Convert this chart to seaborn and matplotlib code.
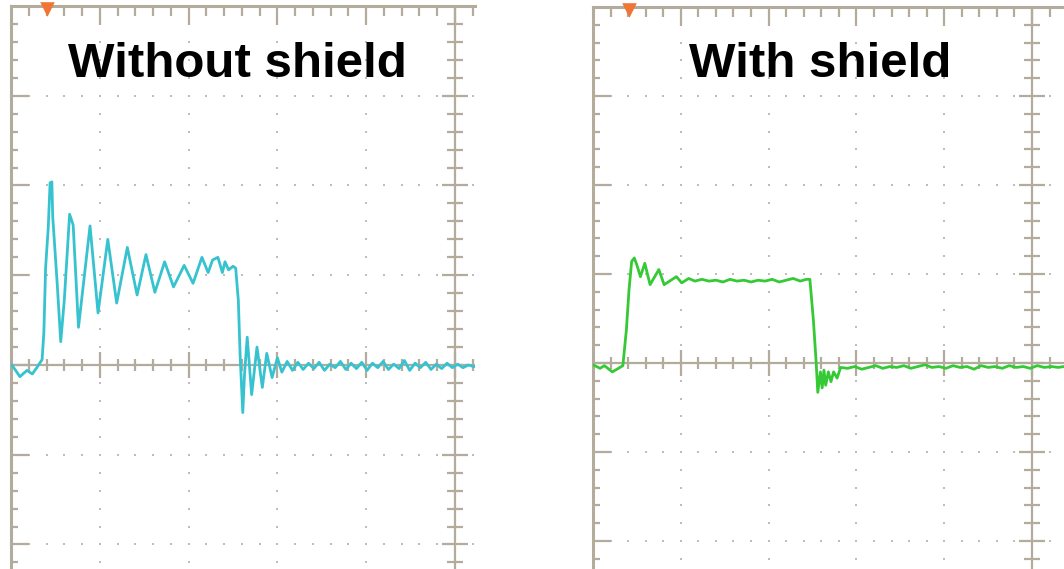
import numpy as np
import pandas as pd
import matplotlib
matplotlib.use("Agg")
import matplotlib.pyplot as plt
from matplotlib.collections import LineCollection
import seaborn as sns

sns.set_style("white")
plt.rcParams['font.family'] = ['Liberation Sans', 'DejaVu Sans']

# ---------------- data (oscilloscope divisions; 0 = screen centre) ----------------
titles = ["Without shield", "With shield"]

left_t = [-4.99, -4.90, -4.82, -4.76, -4.71, -4.65, -4.63, -4.61, -4.58, -4.56,
          -4.54, -4.53, -4.48, -4.44, -4.40, -4.34, -4.30, -4.24, -4.11, -4.02,
          -3.91, -3.81, -3.69, -3.58, -3.48, -3.38, -3.27, -3.17, -3.05, -2.95,
          -2.85, -2.78, -2.73, -2.67, -2.62, -2.59, -2.55, -2.50, -2.47, -2.44,
          -2.42, -2.39, -2.37, -2.34, -2.29, -2.23, -2.17, -2.12, -2.06, -2.00,
          -1.95, -1.89,
          -1.83, -1.77, -1.71, -1.65, -1.59, -1.53, -1.47, -1.41, -1.35, -1.29,
          -1.23, -1.17, -1.11, -1.05, -0.99, -0.93, -0.87, -0.81, -0.75, -0.69,
          -0.63, -0.57, -0.51, -0.45, -0.39, -0.33, -0.27, -0.21, -0.15, -0.09,
          -0.03, 0.03, 0.09, 0.15, 0.22]
left_v = [0.00, -0.13, -0.06, -0.10, -0.03, 0.06, 0.36, 1.09, 1.54, 2.03,
          2.04, 1.65, 0.91, 0.26, 0.72, 1.68, 1.56, 0.42, 1.55, 0.58,
          1.40, 0.69, 1.31, 0.78, 1.23, 0.81, 1.15, 0.87, 1.11, 0.91,
          1.20, 1.03, 1.17, 1.20, 1.03, 1.15, 1.06, 1.10, 1.08, 0.72,
          0.11, -0.53, -0.10, 0.31, -0.33, 0.20, -0.25, 0.13, -0.14, 0.08,
          -0.08, 0.04,
          -0.06, 0.03, -0.05, 0.02, -0.04, 0.03, -0.06, 0.01, -0.03, 0.04,
          -0.05, 0.02, -0.04, 0.03, -0.06, 0.02, -0.03, 0.04, -0.05, 0.01,
          -0.04, 0.05, -0.06, 0.02, -0.03, 0.03, -0.05, 0.01, -0.04, 0.02,
          -0.03, 0.01, -0.03, 0.00, -0.02]

right_t = [-5.00, -4.92, -4.87, -4.78, -4.71, -4.66, -4.62, -4.59, -4.56, -4.53,
           -4.50, -4.46, -4.41, -4.35, -4.25, -4.19, -4.05, -3.99, -3.91,
           -3.84, -3.76, -3.68, -3.60, -3.52, -3.44, -3.36, -3.28, -3.20, -3.12,
           -3.04, -2.96, -2.88, -2.80, -2.72, -2.64, -2.57, -2.53,
           -2.49, -2.46, -2.44, -2.41, -2.39, -2.37, -2.35, -2.32, -2.29, -2.26,
           -2.22, -2.18,
           -2.10, -2.02, -1.94, -1.86, -1.78, -1.70, -1.62, -1.54, -1.46, -1.38,
           -1.30, -1.22, -1.14, -1.06, -0.98, -0.90, -0.82, -0.74, -0.66, -0.58,
           -0.50, -0.42, -0.34, -0.26, -0.18, -0.10, -0.02, 0.06, 0.14, 0.22,
           0.30, 0.36]
right_v = [-0.02, -0.06, -0.03, -0.10, -0.06, -0.03, 0.37, 0.82, 1.14, 1.18,
           1.10, 0.97, 1.12, 0.88, 1.05, 0.88, 0.97, 0.90, 0.95,
           0.92, 0.94, 0.92, 0.93, 0.91, 0.94, 0.92, 0.93, 0.91, 0.93,
           0.92, 0.94, 0.91, 0.93, 0.95, 0.92, 0.94, 0.94,
           0.48, 0.03, -0.33, -0.10, -0.28, -0.08, -0.25, -0.10, -0.21, -0.10,
           -0.17, -0.05,
           -0.06, -0.04, -0.07, -0.05, -0.03, -0.06, -0.04, -0.05, -0.03, -0.06,
           -0.04, -0.02, -0.05, -0.04, -0.06, -0.03, -0.05, -0.04, -0.07, -0.03,
           -0.05, -0.04, -0.06, -0.03, -0.05, -0.04, -0.06, -0.03, -0.05, -0.04,
           -0.05, -0.04]

trigger_pos = [-4.59, -4.59]

# ---------------- figure ----------------
W, H = 1064, 569
fig = plt.figure(figsize=(W / 100, H / 100), dpi=100)
fig.patch.set_facecolor("white")

GRID = "#b3ab9c"
DOT = "#bdbdbd"


def panel(px_left, px_right, px_top, xr, yb, t, v, color, title, title_x, trig):
    ax = fig.add_axes([px_left / W, 0, (px_right - px_left) / W, (H - px_top) / H])
    ax.set_xlim(-5, xr)
    ax.set_ylim(yb, 4)
    ax.set_facecolor("white")
    for s in ["right", "bottom"]:
        ax.spines[s].set_visible(False)
    for s in ["left", "top"]:
        ax.spines[s].set_color(GRID)
        ax.spines[s].set_linewidth(2.2)
    ax.set_xticks([])
    ax.set_yticks([])

    # dotted grid
    dx, dy = [], []
    for gx in [-4, -3, -2, -1]:
        for yy in np.arange(-2.2, 4.0, 0.2):
            dx.append(gx); dy.append(yy)
    for gy in [-2, -1, 1, 2, 3]:
        for xx in np.arange(-4.8, xr, 0.2):
            dx.append(xx); dy.append(gy)
    ax.scatter(dx, dy, s=3.5, marker="s", color=DOT, linewidths=0, zorder=1)

    # crosshair
    ax.axhline(0, color=GRID, lw=1.6, zorder=2)
    ax.axvline(0, color=GRID, lw=1.6, zorder=2)

    segs = []
    # left border ticks
    for k in range(int(np.ceil(yb / 0.2)), 20):
        y = k * 0.2
        major = abs(y - round(y)) < 1e-6
        L = 0.2 if major else 0.08
        segs.append([(-5, y), (-5 + L, y)])
    # top border ticks
    for k in range(0, int(np.floor((xr + 5) / 0.2)) + 1):
        x = -5 + k * 0.2
        major = abs(x - round(x)) < 1e-6
        L = 0.21 if major else 0.11
        segs.append([(x, 4), (x, 4 - L)])
    # centre horizontal ticks
    for k in range(-25, int(np.floor(xr / 0.2)) + 1):
        x = k * 0.2
        major = abs(x - round(x)) < 1e-6
        L = 0.15 if major else 0.07
        segs.append([(x, -L), (x, L)])
    # centre vertical ticks
    for k in range(int(np.ceil(yb / 0.2)), 20):
        y = k * 0.2
        major = abs(y - round(y)) < 1e-6
        L = 0.15 if major else 0.09
        segs.append([(-L, y), (L, y)])
    ax.add_collection(LineCollection(segs, colors=GRID, linewidths=1.6, zorder=2))

    df = pd.DataFrame({"t": t, "v": v})
    sns.lineplot(data=df, x="t", y="v", sort=False, estimator=None, ax=ax,
                 color=color, lw=2.0, zorder=4)
    ax.set_xlabel("")
    ax.set_ylabel("")

    ax.scatter([trig], [3.97], marker="v", s=110, color="#f07432",
               linewidths=0, zorder=5, clip_on=False)

    fig.text(title_x / W, 1 - 77 / H, title, ha="center", va="baseline",
             fontsize=35.5, fontweight="bold", color="black")
    return ax


panel(11, 475, 6, 0.225, -2.273, left_t, left_v, "#36c3cf", titles[0], 237, trigger_pos[0])
panel(593, 1064, 7, 0.364, -2.315, right_t, right_v, "#35c935", titles[1], 820, trigger_pos[1])

fig.savefig("out.png", dpi=100, facecolor="white")
